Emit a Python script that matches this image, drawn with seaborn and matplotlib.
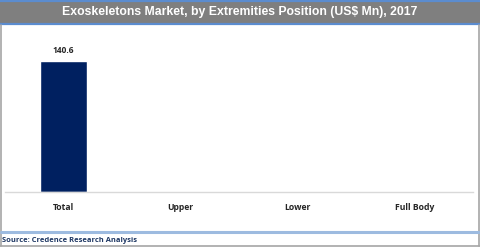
import numpy as np
import pandas as pd
import matplotlib
matplotlib.use("Agg")
import matplotlib.pyplot as plt
import seaborn as sns
from matplotlib.lines import Line2D
from matplotlib.patches import Rectangle

categories = ["Total", "Upper", "Lower", "Full Body"]
values = [140.6, np.nan, np.nan, np.nan]
title = "Exoskeletons Market, by Extremities Position (US$ Mn), 2017"
source = "Source: Credence Research Analysis"

sns.set_style("white")
plt.rcParams['font.family'] = ['Liberation Sans', 'DejaVu Sans']

W, H = 480, 247
fig = plt.figure(figsize=(W / 100, H / 100), dpi=100)

def fx(x): return x / W
def fy(y): return 1 - y / H

# title band
fig.patches.append(Rectangle((0, fy(24)), 1, (24 - 1) / H, transform=fig.transFigure,
                             facecolor="#7f7f7f", edgecolor="none", zorder=0))
for yy in (1.5, 24):
    fig.lines.append(Line2D([0, 1], [fy(yy), fy(yy)], transform=fig.transFigure,
                            color="#5b8ccf", lw=1.6))
fig.text(0.5, fy(12.5), title, ha="center", va="center", color="white",
         fontsize=8.8, fontweight="bold")

# frame borders
fig.lines.append(Line2D([fx(0.8), fx(0.8)], [fy(25), fy(246)], transform=fig.transFigure,
                        color="#a6a6a6", lw=1.2))
fig.lines.append(Line2D([fx(479), fx(479)], [fy(25), fy(246)], transform=fig.transFigure,
                        color="#a6a6a6", lw=1.2))
fig.lines.append(Line2D([0, 1], [fy(245.7), fy(245.7)], transform=fig.transFigure,
                        color="#a6a6a6", lw=1.2))
# light blue separator
fig.lines.append(Line2D([fx(1), fx(479)], [fy(232), fy(232)], transform=fig.transFigure,
                        color="#9dbbe0", lw=2.2))
fig.text(fx(2.5), fy(240), source, ha="left", va="center", color="#1f3864",
         fontsize=5.4, fontweight="bold", family=['Open Sans', 'DejaVu Sans'])

ax = fig.add_axes([fx(5), fy(192), fx(473 - 5), (192 - 30) / H])
df = pd.DataFrame({"cat": categories, "val": values})
sns.barplot(data=df, x="cat", y="val", ax=ax, color="#002060", width=0.4,
            saturation=1, errorbar=None)
ax.set_ylim(0, 140.6 * (192 - 30) / 131)
ax.set_xlabel("")
ax.set_ylabel("")
ax.set_yticks([])
for s in ("left", "right", "top"):
    ax.spines[s].set_visible(False)
ax.spines["bottom"].set_color("#d9d9d9")
ax.spines["bottom"].set_linewidth(1)
ax.tick_params(axis="x", length=0, pad=8)
for lab in ax.get_xticklabels():
    lab.set_fontweight("bold")
    lab.set_fontsize(6.2)
    lab.set_family(['Open Sans', 'DejaVu Sans'])
for c in ax.containers:
    labels = ["" if np.isnan(v) else f"{v:.1f}" for v in c.datavalues]
    ax.bar_label(c, labels=labels, padding=4, fontsize=6, fontweight="bold",
                 family=['Open Sans', 'DejaVu Sans'])

fig.savefig("out.png", dpi=100)
